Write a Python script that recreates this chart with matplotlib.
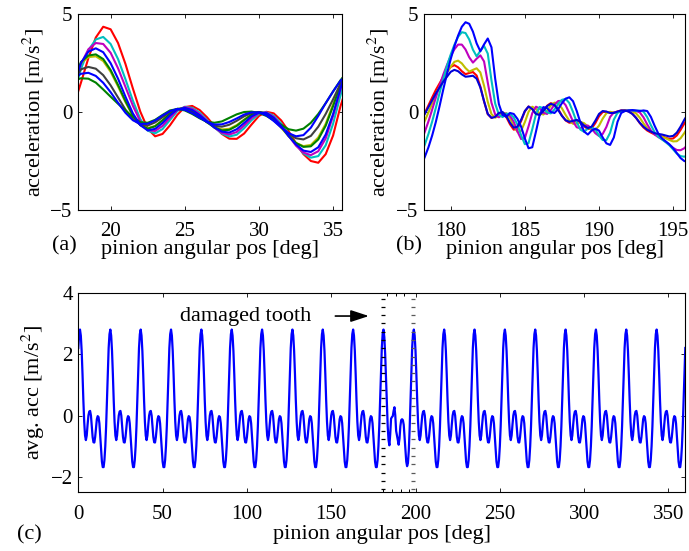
import numpy as np
import matplotlib
matplotlib.use('Agg')
import matplotlib.pyplot as plt

plt.rcParams['font.family'] = ['Liberation Serif', 'DejaVu Serif']
plt.rcParams['mathtext.fontset'] = 'stix'
plt.rcParams['font.size'] = 16

# matlab-ish line colors
C_BLUE = (0, 0, 1)
C_NAVY = (0, 0, 0.85)
C_GREEN = (0, 0.5, 0)
C_RED = (1, 0, 0)
C_CYAN = (0, 0.75, 0.75)
C_MAGENTA = (0.75, 0, 0.75)
C_OLIVE = (0.75, 0.75, 0)
C_GRAY = (0.25, 0.25, 0.25)

# ---- (a) one tooth mesh, healthy part, sampled every 0.5 deg ----
angle_a = np.arange(17.5, 36.01, 0.5)
acc_a_red = [0.3, 1.5, 2.75, 3.8, 4.35, 4.22, 3.52, 2.45, 1.2, 0.02, -0.85, -1.24, -1.12, -0.68, -0.14, 0.25,
             0.31, 0.1, -0.27, -0.72, -1.12, -1.36, -1.37, -1.1, -0.64, -0.2, 0.01, -0.07, -0.43, -0.98, -1.6,
             -2.15, -2.5, -2.59, -2.15, -1.2, 0.3, 1.5]
acc_a_cyan = [0.85, 2.2, 3.15, 3.7, 3.83, 3.47, 2.7, 1.67, 0.58, -0.36, -0.95, -1.09, -0.87, -0.41, 0.05, 0.27,
              0.21, -0.03, -0.41, -0.79, -1.1, -1.25, -1.16, -0.83, -0.42, -0.1, -0.01, -0.19, -0.59, -1.12,
              -1.66, -2.11, -2.33, -2.25, -1.7, -0.6, 0.85, 2.2]
acc_a_magenta = [1.15, 2.45, 3.2, 3.52, 3.47, 3.02, 2.23, 1.28, 0.32, -0.48, -0.92, -0.97, -0.71, -0.29, 0.1,
                 0.25, 0.16, -0.1, -0.45, -0.8, -1.06, -1.15, -1.02, -0.69, -0.31, -0.05, -0.02, -0.25, -0.68,
                 -1.21, -1.72, -2.07, -2.2, -2.0, -1.35, -0.2, 1.15, 2.45]
acc_a_blue = [1.35, 2.5, 3.08, 3.25, 3.05, 2.49, 1.7, 0.78, -0.07, -0.67, -0.94, -0.86, -0.56, -0.17, 0.13,
              0.21, 0.1, -0.16, -0.48, -0.79, -1.0, -1.05, -0.88, -0.56, -0.22, -0.03, -0.05, -0.3, -0.72,
              -1.23, -1.66, -1.97, -2.04, -1.8, -1.15, -0.1, 1.2, 2.5]
acc_a_green = [1.5, 2.55, 2.88, 2.94, 2.7, 2.14, 1.38, 0.56, -0.17, -0.67, -0.85, -0.73, -0.43, -0.09, 0.16,
               0.19, 0.04, -0.22, -0.53, -0.79, -0.94, -0.91, -0.71, -0.41, -0.14, 0.0, -0.07, -0.35, -0.76,
               -1.21, -1.58, -1.78, -1.75, -1.4, -0.7, 0.3, 1.4, 2.4]
acc_a_olive = [1.5, 2.5, 2.8, 2.84, 2.6, 2.05, 1.3, 0.5, -0.2, -0.66, -0.82, -0.71, -0.42, -0.09, 0.15, 0.18,
               0.03, -0.22, -0.51, -0.76, -0.89, -0.86, -0.67, -0.39, -0.13, 0.0, -0.08, -0.38, -0.8, -1.24,
               -1.58, -1.74, -1.68, -1.3, -0.6, 0.4, 1.45, 2.4]
acc_a_gray = [1.6, 2.18, 2.3, 2.21, 1.88, 1.36, 0.74, 0.12, -0.37, -0.65, -0.69, -0.53, -0.27, 0.0, 0.155,
              0.14, -0.02, -0.26, -0.52, -0.7, -0.75, -0.65, -0.45, -0.22, -0.05, 0.0, -0.13, -0.42, -0.77,
              -1.11, -1.34, -1.4, -1.22, -0.75, -0.1, 0.65, 1.45, 2.05]
acc_a_blue2 = [1.7, 1.95, 2.0, 1.84, 1.49, 1.01, 0.47, -0.04, -0.42, -0.61, -0.6, -0.43, -0.18, 0.04, 0.16,
               0.11, -0.06, -0.29, -0.51, -0.64, -0.63, -0.51, -0.33, -0.13, -0.02, -0.02, -0.17, -0.46,
               -0.79, -1.08, -1.24, -1.18, -0.8, -0.2, 0.45, 1.05, 1.6, 1.92]
acc_a_green2 = [1.6, 1.72, 1.7, 1.5, 1.15, 0.78, 0.42, 0.08, -0.25, -0.52, -0.55, -0.4, -0.15, 0.08, 0.15,
                0.08, -0.1, -0.32, -0.5, -0.55, -0.48, -0.3, -0.12, 0.0, 0.02, -0.05, -0.2, -0.42, -0.65,
                -0.88, -0.95, -0.85, -0.55, -0.1, 0.45, 1.05, 1.62, 2.1]

# ---- (b) around the damaged tooth, sampled every 0.25 deg ----
angle_b = np.arange(178.0, 196.01, 0.25)
acc_b_blue = [-2.75, -2.3, -1.8, -1.2, -0.5, 0.3, 1.15, 1.95, 2.7, 3.35, 3.9, 4.35, 4.58, 4.5, 4.1, 3.5,
              3.1, 3.45, 3.75, 3.3, 1.7, 0.4, -0.15, -0.25, -0.05, -0.1, -0.35, -0.75, -1.35, -1.85, -1.8,
              -1.0, -0.15, 0.25, 0.2, 0.0, -0.05, 0.15, 0.45, 0.68, 0.75, 0.55, 0.05, -0.55, -1.0, -1.15,
              -0.95, -0.85, -0.95, -1.3, -1.6, -1.68, -1.3, -0.5, -0.05, 0.05, 0.08, 0.1, 0.08, 0.05, 0.08,
              0.05, -0.25, -0.7, -1.1, -1.35, -1.5, -1.65, -1.85, -2.1, -2.35, -2.5, -2.55]
acc_b_cyan = [-2.14, -1.67, -1.12, -0.49, 0.22, 0.97, 1.68, 2.35, 2.93, 3.43, 3.84, 4.07, 4.03, 3.7, 3.18,
              2.84, 3.12, 3.37, 2.98, 1.61, 0.43, -0.14, -0.26, -0.09, -0.09, -0.28, -0.64, -1.19, -1.64,
              -1.59, -0.88, -0.11, 0.26, 0.19, -0.02, -0.07, 0.13, 0.42, 0.62, 0.67, 0.46, 0.0, -0.52, -0.9,
              -1.01, -0.84, -0.78, -0.9, -1.2, -1.43, -1.43, -1.06, -0.39, -0.04, 0.03, 0.05, 0.08, 0.08,
              0.06, 0.07, 0.02, -0.26, -0.67, -1.03, -1.26, -1.4, -1.54, -1.7, -1.91, -2.12, -2.25, -2.28,
              -2.21]
acc_b_magenta = [-1.51, -1.02, -0.48, 0.12, 0.74, 1.34, 1.91, 2.4, 2.85, 3.2, 3.44, 3.44, 3.19, 2.79, 2.52,
                 2.72, 2.89, 2.58, 1.5, 0.47, -0.13, -0.27, -0.14, -0.08, -0.19, -0.5, -0.99, -1.38, -1.33,
                 -0.73, -0.06, 0.27, 0.18, -0.045, -0.1, 0.1, 0.38, 0.56, 0.57, 0.35, -0.06, -0.49, -0.78,
                 -0.83, -0.7, -0.69, -0.84, -1.08, -1.22, -1.12, -0.76, -0.25, -0.02, 0.005, 0.02, 0.06, 0.08,
                 0.06, 0.05, -0.02, -0.27, -0.63, -0.94, -1.15, -1.28, -1.39, -1.52, -1.67, -1.83, -1.94,
                 -1.95, -1.85, -1.66]
acc_b_olive = [-0.88, -0.46, -0.02, 0.43, 0.87, 1.3, 1.67, 2.02, 2.31, 2.56, 2.62, 2.48, 2.24, 2.06, 2.15,
               2.23, 2.02, 1.34, 0.52, -0.11, -0.29, -0.21, -0.06, -0.07, -0.31, -0.71, -1.01, -0.96, -0.52,
               0.01, 0.27, 0.16, -0.08, -0.13, 0.07, 0.33, 0.48, 0.43, 0.19, -0.15, -0.45, -0.6, -0.59,
               -0.51, -0.57, -0.75, -0.92, -0.92, -0.7, -0.34, -0.06, 0.01, -0.03, -0.02, 0.04, 0.08, 0.07,
               0.03, -0.07, -0.29, -0.58, -0.82, -0.99, -1.1, -1.19, -1.27, -1.34, -1.43, -1.5, -1.49, -1.34,
               -1.08, -0.78]
acc_b_red = [-0.46, -0.06, 0.34, 0.74, 1.13, 1.46, 1.79, 2.06, 2.3, 2.39, 2.28, 2.08, 1.93, 1.99, 2.04, 1.86,
             1.3, 0.54, -0.11, -0.3, -0.23, -0.06, -0.035, -0.26, -0.63, -0.9, -0.86, -0.46, 0.03, 0.28, 0.16,
             -0.09, -0.14, 0.06, 0.32, 0.45, 0.39, 0.15, -0.18, -0.43, -0.55, -0.52, -0.46, -0.54, -0.73,
             -0.87, -0.84, -0.57, -0.22, 0.0, 0.01, -0.04, -0.04, 0.03, 0.08, 0.08, 0.03, -0.085, -0.295,
             -0.565, -0.785, -0.945, -1.05, -1.14, -1.19, -1.245, -1.315, -1.375, -1.35, -1.195, -0.915,
             -0.59, -0.31]
acc_b_navy = [-0.45, -0.1, 0.25, 0.6, 0.95, 1.25, 1.55, 1.8, 2.05, 2.15, 2.08, 1.92, 1.8, 1.82, 1.85, 1.7,
              1.25, 0.55, -0.1, -0.3, -0.25, -0.05, 0.0, -0.2, -0.55, -0.8, -0.75, -0.4, 0.05, 0.28, 0.15,
              -0.1, -0.15, 0.05, 0.3, 0.42, 0.35, 0.1, -0.2, -0.42, -0.5, -0.45, -0.4, -0.5, -0.7, -0.82,
              -0.75, -0.45, -0.1, 0.05, 0.02, -0.05, -0.05, 0.02, 0.08, 0.08, 0.02, -0.1, -0.3, -0.55, -0.75,
              -0.9, -1.0, -1.08, -1.12, -1.15, -1.2, -1.25, -1.22, -1.05, -0.75, -0.4, -0.1]

# ---- (c) averaged signal over one revolution ----
# one tooth period (18 deg) sampled every 0.5 deg, starting at 0 deg
tooth_wave = [2.2, 2.65, 2.8, 2.6, 2.1, 1.35, 0.5, -0.2, -0.65, -0.8, -0.65, -0.3, 0.0, 0.13, 0.15, 0.0,
              -0.35, -0.7, -0.87, -0.88, -0.7, -0.4, -0.12, -0.02, -0.05, -0.25, -0.65, -1.1, -1.5, -1.68,
              -1.68, -1.45, -1.0, -0.35, 0.45, 1.35]
# the damaged tooth, 181.5 .. 197.5 deg
damaged_wave = [2.55, 2.0, 1.2, 0.35, -0.35, -0.8, -0.97, -0.6, -0.1, -0.05, -0.02, 0.15, 0.27, 0.0, -0.5,
                -0.65, -0.8, -0.95, -0.75, -0.35, -0.15, -0.12, -0.15, -0.3, -0.7, -1.15, -1.5, -1.65, -1.55,
                -1.15, -0.45, 0.4, 1.35]
n_teeth = 20
damaged_start = 181.5

# the 20 healthy teeth give the same pattern, only the damaged one differs
angle_c = np.arange(0, 360.01, 0.5)
avg_acc = np.append(np.tile(tooth_wave, n_teeth), tooth_wave[0])
i0 = int(damaged_start / 0.5)
avg_acc[i0:i0 + len(damaged_wave)] = damaged_wave

fig = plt.figure(figsize=(6.89, 5.51), dpi=100)
W, H = 689.0, 551.0
ax_a = fig.add_axes([78 / W, 1 - 210 / H, 264 / W, 196 / H])
ax_b = fig.add_axes([424 / W, 1 - 210 / H, 261 / W, 196 / H])
ax_c = fig.add_axes([78.3 / W, 1 - 492.3 / H, 607 / W, 199.6 / H])

lw = 1.5
curves_a = [(acc_a_red, C_RED), (acc_a_cyan, C_CYAN), (acc_a_magenta, C_MAGENTA), (acc_a_olive, C_OLIVE),
            (acc_a_green, C_GREEN), (acc_a_gray, C_GRAY), (acc_a_green2, C_GREEN), (acc_a_blue, C_BLUE),
            (acc_a_blue2, C_BLUE)]
for vals, col in curves_a:
    ax_a.plot(angle_a, vals, color=col, lw=lw)

curves_b = [(acc_b_red, C_RED), (acc_b_olive, C_OLIVE), (acc_b_magenta, C_MAGENTA), (acc_b_cyan, C_CYAN),
            (acc_b_blue, C_BLUE), (acc_b_navy, C_NAVY)]
for vals, col in curves_b:
    ax_b.plot(angle_b, vals, color=col, lw=lw)

ax_c.plot(angle_c, avg_acc, color=C_BLUE, lw=1.6)

for ax in (ax_a, ax_b, ax_c):
    ax.tick_params(direction='in', top=True, right=True, length=3, width=0.6, labelsize=15)
    ax.tick_params(axis='x', pad=9)
    ax.tick_params(axis='y', pad=4)
    for s in ax.spines.values():
        s.set_linewidth(0.8)

ax_a.set_xlim(17.8, 35.6)
ax_a.set_ylim(-5, 5)
ax_a.set_xticks([20, 25, 30, 35])
ax_a.set_yticks([-5, 0, 5])
ax_b.set_xlim(178.2, 195.8)
ax_b.set_ylim(-5, 5)
ax_b.set_xticks([180, 185, 190, 195])
ax_b.set_yticks([-5, 0, 5])
ax_c.set_xlim(0, 360)
ax_c.set_ylim(-2.5, 4)
ax_c.set_xticks(range(0, 351, 50))
ax_c.set_yticks([-2, 0, 2, 4])

for ax, yl in ((ax_a, -0.12), (ax_b, -0.127)):
    ax.set_xlabel('pinion angular pos [deg]')
    ax.set_ylabel(r'acceleration [m/s$^2$]')
    ax.xaxis.set_label_coords(0.5, -0.155)
    ax.yaxis.set_label_coords(yl, 0.5)
ax_c.set_xlabel('pinion angular pos [deg]')
ax_c.set_ylabel(r'avg. acc [m/s$^2$]')
ax_c.xaxis.set_label_coords(0.5, -0.165)
ax_c.yaxis.set_label_coords(-0.052, 0.5)

fig.text(64 / W, 1 - 246 / H, '(a)', ha='center', va='center')
fig.text(409 / W, 1 - 246 / H, '(b)', ha='center', va='center')
fig.text(29 / W, 1 - 535 / H, '(c)', ha='center', va='center')

# damaged tooth marker
ax_c.text(60.3, 3.24, 'damaged tooth', ha='left', va='center')
ax_c.annotate('', xy=(174, 3.24), xytext=(150.8, 3.24),
              arrowprops=dict(arrowstyle='-|>,head_length=0.55,head_width=0.18', color='k', lw=1.2,
                              mutation_scale=20))
box_left, box_right = 180.8, 198.4
marks_y = np.arange(-2.4, 4.0, 0.27)
ax_c.plot([box_left] * len(marks_y), marks_y, ls='none', marker='_', ms=3.5, mew=0.9, color='k')
ax_c.plot([box_right] * len(marks_y), marks_y, ls='none', marker='_', ms=3.5, mew=0.9, color='0.35')
ax_c.plot([183.2, 188.2, 193.1], [4] * 3, ls='none', marker='|', ms=5, mew=0.7, color='k')
ax_c.plot([181.0, 186.2, 191.1, 196.0], [-2.5] * 4, ls='none', marker='|', ms=5, mew=0.7, color='k')

fig.savefig('out.png', dpi=100)
